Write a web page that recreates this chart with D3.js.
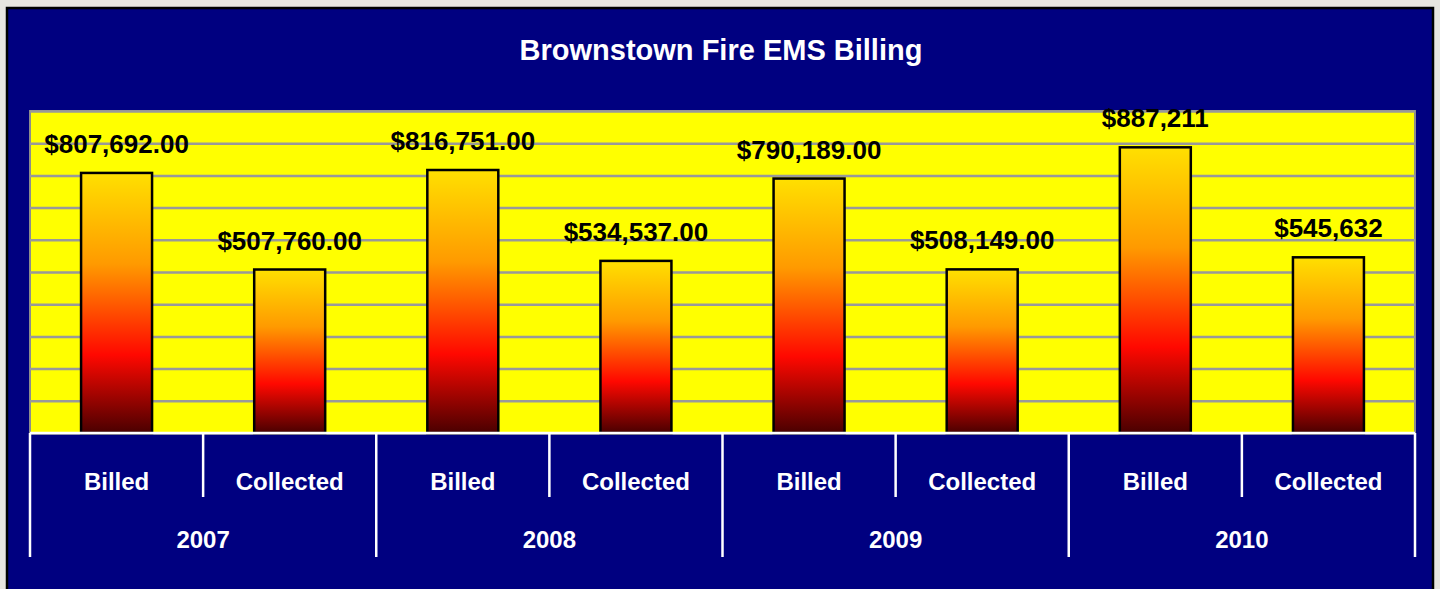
<!DOCTYPE html>
<meta charset="utf-8">
<script src="https://d3js.org/d3.v7.min.js"></script>
<style>
  body { margin: 0; background: #e8e6e0; }
  text { font-family: Arial, "Liberation Sans", sans-serif; font-weight: bold; }
</style>
<div id="my_dataviz"></div>
<script>

// data
var years = ["2007", "2008", "2009", "2010"];
var kinds = ["Billed", "Collected"];
var amounts = [807692, 507760, 816751, 534537, 790189, 508149, 887211, 545632];
var amountLabels = ["$807,692.00", "$507,760.00", "$816,751.00", "$534,537.00",
                    "$790,189.00", "$508,149.00", "$887,211", "$545,632"];
var yTicks = [0, 100000, 200000, 300000, 400000, 500000, 600000, 700000, 800000, 900000, 1000000];

var rows = [];
years.forEach(function(y, i) {
  kinds.forEach(function(k, j) {
    rows.push({year: y, kind: k, key: y + "-" + k, value: amounts[i * 2 + j], label: amountLabels[i * 2 + j]});
  });
});

var W = 1440, H = 589;
var margin = {top: 111, right: 25, bottom: 156, left: 30},
    width = W - margin.left - margin.right,
    height = H - margin.top - margin.bottom;

var svg = d3.select("#my_dataviz")
  .append("svg")
    .attr("width", W)
    .attr("height", H);

// navy chart box
svg.append("rect")
  .attr("x", 7).attr("y", 8)
  .attr("width", 1426).attr("height", 600)
  .attr("fill", "#000080")
  .attr("stroke", "#000").attr("stroke-width", 2.5);

svg.append("text")
  .attr("x", 721).attr("y", 60)
  .attr("text-anchor", "middle")
  .attr("fill", "#fff")
  .style("font-size", "29px")
  .text("Brownstown Fire EMS Billing");

var g = svg.append("g")
  .attr("transform", "translate(" + margin.left + "," + margin.top + ")");

// gradient for the bars
var grad = svg.append("defs").append("linearGradient")
  .attr("id", "barGrad")
  .attr("x1", 0).attr("y1", 0).attr("x2", 0).attr("y2", 1);
grad.append("stop").attr("offset", "0%").attr("stop-color", "#ffe000");
grad.append("stop").attr("offset", "35%").attr("stop-color", "#ff9a00");
grad.append("stop").attr("offset", "70%").attr("stop-color", "#ff0800");
grad.append("stop").attr("offset", "100%").attr("stop-color", "#4a0000");

// plot area
g.append("rect")
  .attr("width", width).attr("height", height)
  .attr("fill", "#ffff00")
  .attr("stroke", "#8c8c8c").attr("stroke-width", 2);

var x = d3.scaleBand()
  .domain(rows.map(function(d) { return d.key; }))
  .range([0, width])
  .paddingInner(0.59)
  .paddingOuter(0.295);

var y = d3.scaleLinear()
  .domain([0, 1000000])
  .range([height, 0]);

// gridlines
g.append("g")
  .call(d3.axisLeft(y).tickValues(yTicks).tickSize(-width).tickFormat(""))
  .call(function(a) {
    a.select(".domain").remove();
    a.selectAll("line").attr("stroke", "#999").attr("stroke-width", 2.5);
  });

// bars
g.selectAll("mybar")
  .data(rows)
  .enter()
  .append("rect")
    .attr("x", function(d) { return x(d.key); })
    .attr("y", function(d) { return y(d.value); })
    .attr("width", x.bandwidth())
    .attr("height", function(d) { return height - y(d.value); })
    .attr("fill", "url(#barGrad)")
    .attr("stroke", "#000")
    .attr("stroke-width", 2.5);

// value labels
g.selectAll("mylabel")
  .data(rows)
  .enter()
  .append("text")
    .attr("x", function(d) { return x(d.key) + x.bandwidth() / 2; })
    .attr("y", function(d) { return y(d.value) - 20; })
    .attr("text-anchor", "middle")
    .style("font-size", "26px")
    .attr("fill", "#000")
    .text(function(d) { return d.label; });

// category axis (two levels)
var step = x.step();
var axis = g.append("g").attr("transform", "translate(0," + height + ")");
axis.append("line")
  .attr("x1", 0).attr("x2", width)
  .attr("stroke", "#fff").attr("stroke-width", 2.5);

axis.selectAll("kindtick")
  .data(rows)
  .enter()
  .append("line")
    .attr("x1", function(d, i) { return i * step; })
    .attr("x2", function(d, i) { return i * step; })
    .attr("y1", 0)
    .attr("y2", function(d, i) { return i % 2 == 0 ? 124 : 64; })
    .attr("stroke", "#fff").attr("stroke-width", 2.5);
axis.append("line")
  .attr("x1", width).attr("x2", width)
  .attr("y1", 0).attr("y2", 124)
  .attr("stroke", "#fff").attr("stroke-width", 2.5);

axis.selectAll("kindlabel")
  .data(rows)
  .enter()
  .append("text")
    .attr("x", function(d) { return x(d.key) + x.bandwidth() / 2; })
    .attr("y", 57)
    .attr("text-anchor", "middle")
    .attr("fill", "#fff")
    .style("font-size", "24px")
    .text(function(d) { return d.kind; });

axis.selectAll("yearlabel")
  .data(years)
  .enter()
  .append("text")
    .attr("x", function(d, i) { return (i * 2 + 1) * step; })
    .attr("y", 115)
    .attr("text-anchor", "middle")
    .attr("fill", "#fff")
    .style("font-size", "24px")
    .text(function(d) { return d; });

</script>
